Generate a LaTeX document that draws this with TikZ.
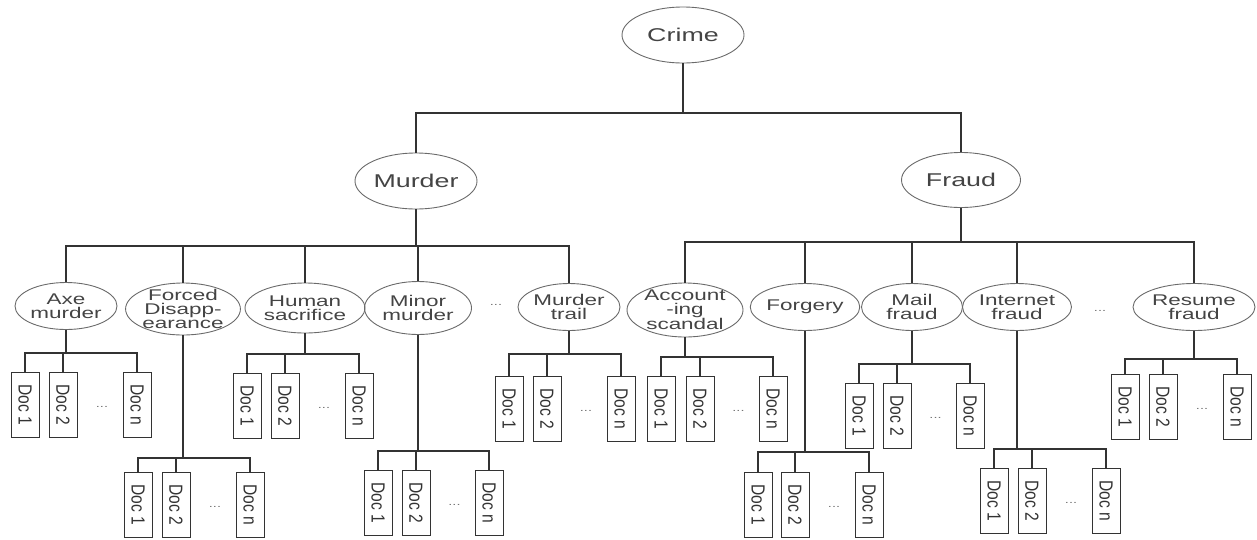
\documentclass[tikz,border=0pt]{standalone}
\usepackage{fontspec}
\setmainfont{Liberation Sans}
\newfontfamily\widefont[FakeStretch=1.45]{Liberation Sans}
\newfontfamily\docfont[FakeStretch=0.82]{Liberation Sans}
\usetikzlibrary{shapes.geometric, positioning}
\definecolor{linegray}{HTML}{333333}
\definecolor{rimgray}{HTML}{6A6A6A}
\definecolor{textgray}{HTML}{444444}
\tikzset{
  topic/.style={ellipse, draw=rimgray, line width=0.9pt, inner sep=0pt,
                align=center, text=textgray, font=\widefont\fontsize{15.5}{14}\selectfont},
  bigtopic/.style={topic, font=\widefont\fontsize{18.5}{18}\selectfont},
  docbox/.style={draw=linegray, line width=1pt, rotate=-90, anchor=west,
                 minimum width=65pt, minimum height=28pt, inner sep=0pt,
                 text=linegray, font=\docfont\fontsize{19}{19}\selectfont},
  dots/.style={text=black!55, inner sep=0pt, font=\widefont\fontsize{10}{10}\selectfont},
  link/.style={draw=linegray, line width=1.1pt},
}

\begin{document}
\begin{tikzpicture}[x=1pt, y=-1pt]
  \useasboundingbox (0,0) rectangle (1257,539);

  %% ── Top levels ──
  \node[bigtopic, minimum width=122pt, minimum height=56pt] (crime) at (683,35) {Crime};
  \node[bigtopic, minimum width=122pt, minimum height=56pt] (murder) at (416,181) {Murder};
  \node[bigtopic, minimum width=119pt, minimum height=55pt] (fraud) at (961,180) {Fraud};

  \coordinate (crime-bar) at (crime.south |- 0,113);
  \draw[link] (crime.south) -- (crime-bar);
  \draw[link] (crime-bar) -| (murder.north);
  \draw[link] (crime-bar) -| (fraud.north);

  %% ── Murder branch ──
  \node[topic, minimum width=102pt, minimum height=47pt] (axe) at (66,306) {Axe\\murder};
  \node[topic, minimum width=113pt, minimum height=52pt, inner ysep=-3pt] (forced) at (183,309) {Forced\\Disapp-\\earance};
  \node[topic, minimum width=120pt, minimum height=50pt] (human) at (305,308) {Human\\sacrifice};
  \node[topic, minimum width=107pt, minimum height=53pt] (minor) at (418,308) {Minor\\murder};
  \node[dots] (mdots) at (496,305) {...};
  \node[topic, minimum width=102pt, minimum height=47pt] (mtrail) at (569,307) {Murder\\trail};

  \coordinate (murder-bar) at (murder.south |- 0,246);
  \draw[link] (murder.south) -- (murder-bar);
  \foreach \c in {axe, forced, human, minor, mtrail}
    \draw[link] (murder-bar) -| (\c.north);

  %% ── Fraud branch ──
  \node[topic, minimum width=116pt, minimum height=54pt, inner ysep=-3pt] (account) at (685,310) {Account\\-ing\\scandal};
  \node[topic, minimum width=108pt, minimum height=47pt] (forgery) at (805,307) {Forgery};
  \node[topic, minimum width=101pt, minimum height=47pt] (mail) at (912,307) {Mail\\fraud};
  \node[topic, minimum width=109pt, minimum height=47pt] (internet) at (1017,307) {Internet\\fraud};
  \node[dots] (fdots) at (1100,311) {...};
  \node[topic, minimum width=122pt, minimum height=47pt] (resume) at (1194,307) {Resume\\fraud};

  \coordinate (fraud-bar) at (fraud.south |- 0,242);
  \draw[link] (fraud.south) -- (fraud-bar);
  \foreach \c in {account, forgery, mail, internet, resume}
    \draw[link] (fraud-bar) -| (\c.north);

  %% ── Documents ──
  % name / bar y / x of Doc 1, Doc 2, Doc n / box top
  \foreach \g/\by/\a/\b/\c/\t in {
      axe/353/25/63/137/372, forced/458/138/176/250/472,
      human/354/247/285/359/373, minor/451/378/416/489/470,
      mtrail/354/509/547/621/376, account/357/661/700/773/376,
      forgery/452/758/795/869/472, mail/364/859/897/970/383,
      internet/449/994/1032/1106/468, resume/359/1125/1163/1237/374}{
    \node[docbox] (\g-1) at (\a,\t) {Doc 1};
    \node[docbox] (\g-2) at (\b,\t) {Doc 2};
    \node[docbox] (\g-n) at (\c,\t) {Doc n};
    \node[dots] (\g-dots) at ({(\b+\c)/2+2},{\t+35}) {...};
    \coordinate (\g-bar) at (\g.south |- 0,\by);
    \draw[link] (\g.south) -- (\g-bar);
    \foreach \k in {1,2,n}
      \draw[link] (\g-bar) -| (\g-\k.west);
  }
\end{tikzpicture}
\end{document}
